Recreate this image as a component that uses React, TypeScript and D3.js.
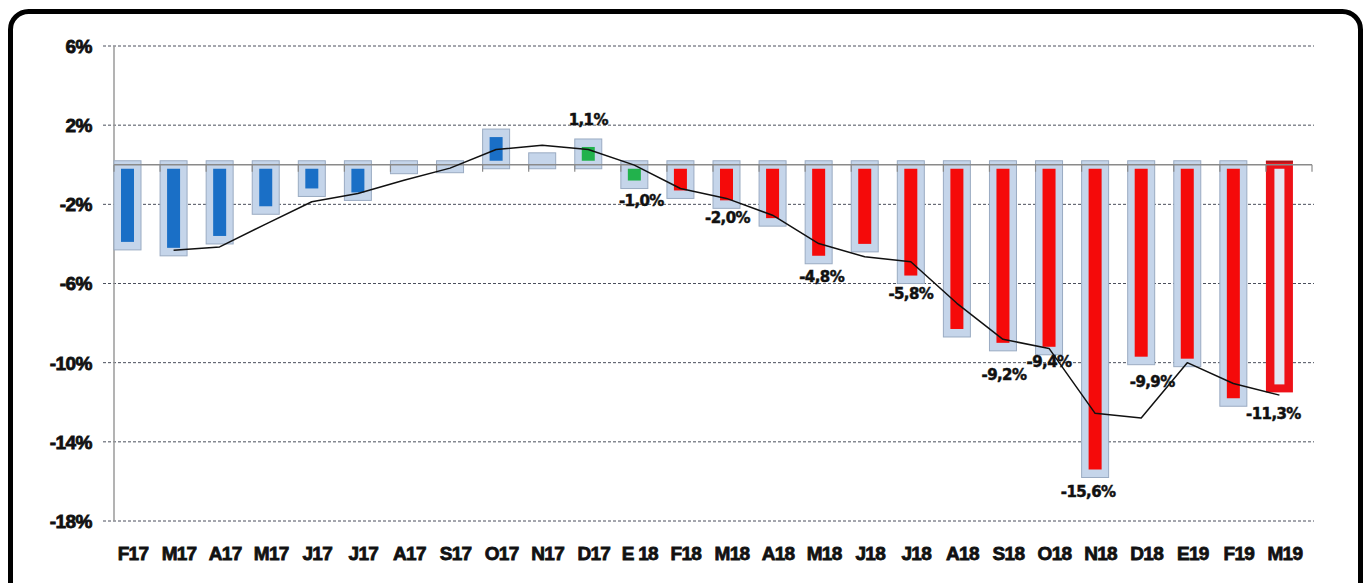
import React from "react";
import * as d3 from "d3";

// ---- data ----
const categories = [
  "F17", "M17", "A17", "M17", "J17", "J17", "A17", "S17", "O17", "N17", "D17", "E 18",
  "F18", "M18", "A18", "M18", "J18", "J18", "A18", "S18", "O18", "N18", "D18", "E19", "F19", "M19",
];
const monthly = [
  -4.1, -4.4, -3.8, -2.3, -1.4, -1.6, -0.25, -0.2, 1.6, 0.4, 1.1, -1.0,
  -1.5, -2.0, -2.9, -4.8, -4.2, -5.8, -8.5, -9.2, -9.4, -15.6, -9.9, -10.0, -12.0, -11.3,
];
const trend: (number | null)[] = [
  null, -4.32, -4.15, -3.0, -1.87, -1.45, -0.78, -0.17, 0.77, 0.99, 0.77, -0.02,
  -1.2, -1.7, -2.55, -3.98, -4.65, -4.9, -7.0, -8.82, -9.28, -12.56, -12.8, -10.0, -11.05, -11.64,
];
const barGroup = [
  "A", "A", "A", "A", "A", "A", "A", "A", "A", "A", "B", "B",
  "C", "C", "C", "C", "C", "C", "C", "C", "C", "C", "C", "C", "C", "D",
];
const labelledIdx = [10, 11, 13, 15, 17, 19, 20, 21, 22, 25];
const yTicks = [6, 2, -2, -6, -10, -14, -18];

// ---- layout / style ----
const W = 1368;
const H = 583;
const innerColor: Record<string, string> = {
  A: "#1a6fc6",
  B: "#22b24c",
  C: "#f50a0a",
};
// offsets of label centre from the bar end
const labelNudge: Record<number, [number, number]> = {
  10: [0, -23],
  11: [7, 16],
  13: [1, 13],
  15: [3, 17],
  17: [0, 14],
  19: [1, 28],
  20: [0, 11],
  21: [-7, 18],
  22: [11, 21],
  25: [-6, 25],
};

const fmt = (v: number) => v.toFixed(1).replace(".", ",") + "%";

export default function App() {
  const x = d3.scaleLinear().domain([0, categories.length]).range([114, 1312]);
  const y = d3.scaleLinear().domain([-18, 6]).range([521, 46]);
  const step = x(1) - x(0);
  const barW = step * 0.586;
  const pad = 4;
  const cx = (i: number) => x(i) + barW / 2;
  const y0 = y(0);

  const linePts: [number, number][] = [];
  trend.forEach((v, i) => {
    if (v !== null) linePts.push([cx(i), y(v)]);
  });
  const linePath = d3
    .line<[number, number]>()
    .x((d) => d[0])
    .y((d) => d[1])
    .curve(d3.curveLinear)(linePts);

  const tickFont = "'Liberation Sans', Arial, sans-serif";
  const labFont = "'DejaVu Sans', Verdana, sans-serif";

  return (
    <svg
      width={W}
      height={H}
      style={{ position: "absolute", left: 0, top: 0, background: "#fff" }}
    >
      <rect x={0} y={0} width={W} height={H} fill="#fff" />

      {/* gridlines */}
      {yTicks.map((t) => (
        <line
          key={"g" + t}
          x1={103}
          x2={1314}
          y1={y(t)}
          y2={y(t)}
          stroke="#4a4f5c"
          strokeWidth={1}
          strokeDasharray="3,2"
        />
      ))}

      {/* y axis */}
      <line x1={114} x2={114} y1={y(6)} y2={y(-18)} stroke="#9a9a9a" strokeWidth={1.5} />

      {/* y tick labels */}
      {yTicks.map((t) => (
        <text
          key={"yl" + t}
          x={92}
          y={y(t)}
          dy="0.36em"
          textAnchor="end"
          fontFamily={tickFont}
          fontWeight="bold"
          fontSize={19}
          letterSpacing={-0.5}
          fill="#111"
          stroke="#111"
          strokeWidth={0.8}
        >
          {`${t}%`}
        </text>
      ))}

      {/* bars */}
      {monthly.map((v, i) => {
        const left = x(i);
        const top = Math.min(y0, y(v));
        const bot = Math.max(y0, y(v));
        const g = barGroup[i];
        if (g === "D") {
          return (
            <g key={"b" + i}>
              <rect x={left} y={top - pad} width={barW} height={bot - top + 2 * pad} fill="#ee1118" />
              <rect x={left} y={top - pad} width={barW} height={2} fill="#a8181c" />
              <rect
                x={left + 8.5}
                y={top + pad}
                width={barW - 17}
                height={Math.max(0, bot - top - 2 * pad)}
                fill="#e4e7f3"
              />
            </g>
          );
        }
        const ih = bot - top - 2 * pad;
        return (
          <g key={"b" + i}>
            <rect
              x={left}
              y={top - pad}
              width={barW}
              height={bot - top + 2 * pad}
              fill="#c5d5ea"
              stroke="#9aabc2"
              strokeWidth={1}
            />
            {ih > 0 && (
              <rect
                x={cx(i) - 6.5}
                y={top + pad}
                width={13}
                height={ih}
                fill={innerColor[g]}
              />
            )}
          </g>
        );
      })}

      {/* zero axis */}
      <line x1={114} x2={1312} y1={y0} y2={y0} stroke="#8a8a8a" strokeWidth={1.5} />
      {d3.range(categories.length + 1).map((k) => (
        <line
          key={"t" + k}
          x1={x(k)}
          x2={x(k)}
          y1={y0}
          y2={y0 + 7}
          stroke="#8a8a8a"
          strokeWidth={1.2}
        />
      ))}

      {/* trend line */}
      <path d={linePath || ""} fill="none" stroke="#111" strokeWidth={1.5} strokeLinejoin="round" />

      {/* data labels */}
      {labelledIdx.map((i) => {
        const [dx, dy] = labelNudge[i] || [0, 0];
        return (
          <text
            key={"dl" + i}
            x={cx(i) + dx}
            y={y(monthly[i]) + dy}
            dy="0.36em"
            textAnchor="middle"
            fontFamily={labFont}
            fontWeight="bold"
            fontSize={15}
            letterSpacing={-0.6}
            fill="#111"
            stroke="#111"
            strokeWidth={0.5}
          >
            {fmt(monthly[i])}
          </text>
        );
      })}

      {/* category labels */}
      {categories.map((c, i) => (
        <text
          key={"xl" + i}
          x={x(i) + 19}
          y={560}
          textAnchor="middle"
          fontFamily={tickFont}
          fontWeight="bold"
          fontSize={19}
          letterSpacing={-0.7}
          fill="#111"
          stroke="#111"
          strokeWidth={0.8}
        >
          {c}
        </text>
      ))}

      {/* frame */}
      <rect
        x={10.5}
        y={11.5}
        width={1350}
        height={590}
        rx={18}
        ry={18}
        fill="none"
        stroke="#000"
        strokeWidth={5}
      />
    </svg>
  );
}
